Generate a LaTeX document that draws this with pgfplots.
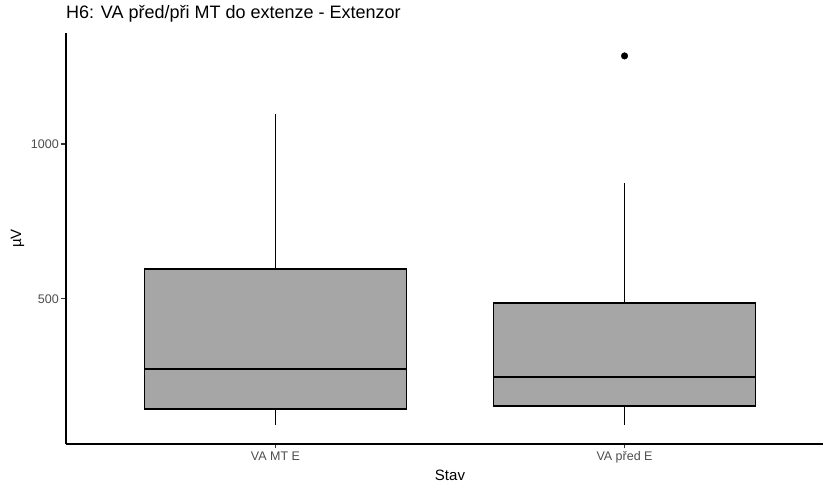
\documentclass[border=0pt]{standalone}
\usepackage{fontspec}
\setmainfont{Liberation Sans}
\usepackage{pgfplots}
\pgfplotsset{compat=1.18}
\definecolor{boxgray}{RGB}{166,166,166}
\definecolor{tickgray}{RGB}{77,77,77}
\definecolor{tickline}{RGB}{51,51,51}
\begin{document}
\begin{tikzpicture}
\path[use as bounding box] (-66pt,-42pt) rectangle (757pt,444pt);
\begin{axis}[
  at={(0,0)}, anchor=south west,
  scale only axis,
  width=768pt, height=411pt,
  xmin=0.4, xmax=2.6,
  ymin=32, ymax=1358,
  axis lines*=left,
  axis line style={black, line width=1.1pt},
  xtick={1,2},
  xticklabels={VA MT E, VA před E},
  ytick={500,1000},
  tick align=outside,
  major tick length=4.5pt,
  tick style={tickline, line width=1.1pt},
  /pgf/number format/assume math mode=true,
  /pgf/number format/1000 sep={},
  ticklabel style={font=\fontsize{12.5}{14}\selectfont, text=tickgray},
  yticklabel style={inner sep=0pt, xshift=-2.5pt},
  xticklabel style={inner sep=0pt, yshift=-3pt},
  title={H6: VA před/při MT do extenze - Extenzor},
  title style={at={(rel axis cs:0,1)}, anchor=base west, yshift=8pt, inner sep=0pt, font=\fontsize{18}{20}\selectfont},
  xlabel={Stav},
  xlabel style={at={(axis description cs:0.5,0)}, anchor=base, yshift=-37pt, inner sep=0pt, font=\fontsize{15}{17}\selectfont},
  ylabel={µV},
  ylabel style={at={(axis description cs:0,0.5)}, anchor=center, yshift=48.5pt, inner sep=0pt, font=\fontsize{15}{17}\selectfont},
]
% whiskers
\addplot[black, line width=1.1pt] coordinates {(1,94) (1,145)};
\addplot[black, line width=1.1pt] coordinates {(1,597) (1,1097)};
\addplot[black, line width=1.1pt] coordinates {(2,94) (2,155)};
\addplot[black, line width=1.1pt] coordinates {(2,487) (2,874)};
% boxes
\addplot[fill=boxgray, draw=black, line width=1.3pt] coordinates {(0.625,145) (1.375,145) (1.375,597) (0.625,597)} -- cycle;
\addplot[fill=boxgray, draw=black, line width=1.3pt] coordinates {(1.625,155) (2.375,155) (2.375,487) (1.625,487)} -- cycle;
% medians
\addplot[black, line width=2.8pt] coordinates {(0.625,274) (1.375,274)};
\addplot[black, line width=2.8pt] coordinates {(1.625,248) (2.375,248)};
% outlier
\addplot[only marks, mark=*, mark size=3.3pt, mark options={fill=black, draw=black}] coordinates {(2,1284)};
\end{axis}
\end{tikzpicture}
\end{document}
